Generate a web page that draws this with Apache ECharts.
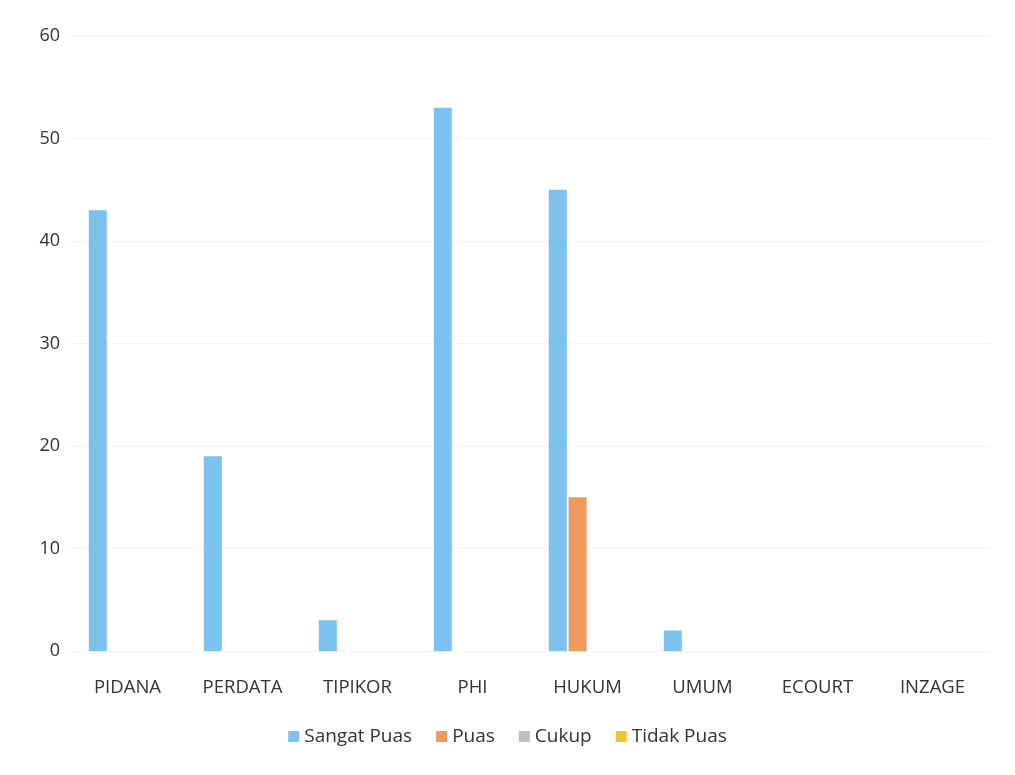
<!DOCTYPE html>
<html>
<head>
<meta charset="utf-8">
<script src="https://cdn.jsdelivr.net/npm/echarts@6/dist/echarts.min.js"></script>
<style>html,body{margin:0;padding:0;background:#fff;}#c{width:1015px;height:775px;}</style>
</head>
<body>
<div id="c"></div>
<script>
const categories = ['PIDANA','PERDATA','TIPIKOR','PHI','HUKUM','UMUM','ECOURT','INZAGE'];
const seriesNames = ['Sangat Puas','Puas','Cukup','Tidak Puas'];
const sangatPuas = [43, 19, 3, 53, 45, 2, 0, 0];
const puas = [0, 0, 0, 0, 15, 0, 0, 0];
const cukup = [0, 0, 0, 0, 0, 0, 0, 0];
const tidakPuas = [0, 0, 0, 0, 0, 0, 0, 0];
const yTicks = [0, 10, 20, 30, 40, 50, 60];
const colors = ['#7DC1EE', '#EE9A5A', '#BFBFBF', '#F2C232'];

const chart = echarts.init(document.getElementById('c'));
const dataSets = [sangatPuas, puas, cukup, tidakPuas];
chart.setOption({
  animation: false,
  color: colors,
  textStyle: { fontFamily: 'Open Sans, Noto Sans, sans-serif' },
  grid: { left: 70, right: 25, top: 36, bottom: 124 },
  legend: {
    data: seriesNames,
    bottom: 24,
    left: 'center',
    icon: 'rect',
    itemWidth: 11,
    itemHeight: 11,
    itemGap: 24,
    textStyle: { fontSize: 19, color: '#333' }
  },
  xAxis: {
    type: 'category',
    data: categories,
    axisLine: { show: false },
    axisTick: { show: false },
    axisLabel: { fontSize: 18.5, color: '#333', margin: 27 }
  },
  yAxis: {
    type: 'value',
    min: yTicks[0],
    max: yTicks[yTicks.length - 1],
    interval: 10,
    axisLine: { show: false },
    axisTick: { show: false },
    splitLine: { show: true, lineStyle: { color: '#f4f4f4' } },
    axisLabel: { fontSize: 18, color: '#333', margin: 10 }
  },
  series: seriesNames.map((n, i) => ({
    name: n,
    type: 'bar',
    data: dataSets[i],
    barWidth: 18,
    barGap: '10%'
  }))
});
</script>
</body>
</html>
